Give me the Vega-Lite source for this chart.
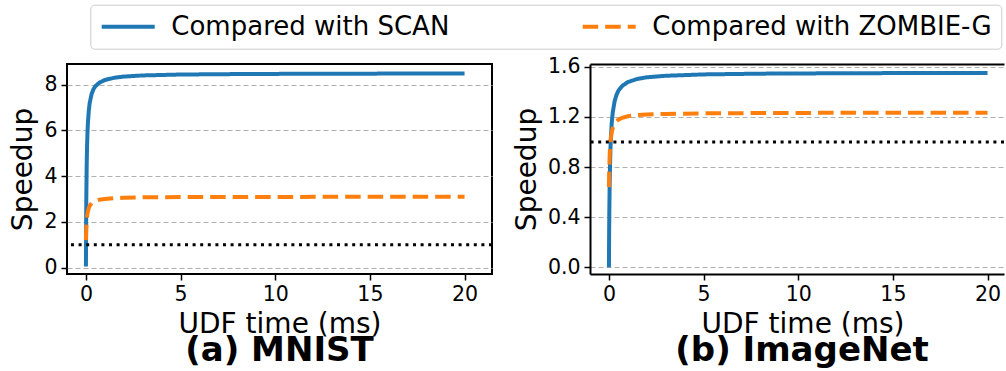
{
  "$schema": "https://vega.github.io/schema/vega-lite/v6.json",
  "padding": {"left": 8, "top": 4, "right": 0, "bottom": 0},
  "background": "white",
  "bounds": "flush",
  "spacing": 98,
  "datasets": {
    "curves": [
      {"dataset": "MNIST", "method": "Compared with SCAN", "x": 0, "y": 0.05},
      {"dataset": "MNIST", "method": "Compared with SCAN", "x": 0.01, "y": 1.85},
      {"dataset": "MNIST", "method": "Compared with SCAN", "x": 0.02, "y": 3.04},
      {"dataset": "MNIST", "method": "Compared with SCAN", "x": 0.04, "y": 4.47},
      {"dataset": "MNIST", "method": "Compared with SCAN", "x": 0.06, "y": 5.31},
      {"dataset": "MNIST", "method": "Compared with SCAN", "x": 0.08, "y": 5.86},
      {"dataset": "MNIST", "method": "Compared with SCAN", "x": 0.1, "y": 6.25},
      {"dataset": "MNIST", "method": "Compared with SCAN", "x": 0.15, "y": 6.85},
      {"dataset": "MNIST", "method": "Compared with SCAN", "x": 0.2, "y": 7.2},
      {"dataset": "MNIST", "method": "Compared with SCAN", "x": 0.3, "y": 7.59},
      {"dataset": "MNIST", "method": "Compared with SCAN", "x": 0.4, "y": 7.8},
      {"dataset": "MNIST", "method": "Compared with SCAN", "x": 0.5, "y": 7.93},
      {"dataset": "MNIST", "method": "Compared with SCAN", "x": 0.7, "y": 8.08},
      {"dataset": "MNIST", "method": "Compared with SCAN", "x": 1, "y": 8.2},
      {"dataset": "MNIST", "method": "Compared with SCAN", "x": 1.5, "y": 8.3},
      {"dataset": "MNIST", "method": "Compared with SCAN", "x": 2, "y": 8.35},
      {"dataset": "MNIST", "method": "Compared with SCAN", "x": 3, "y": 8.4},
      {"dataset": "MNIST", "method": "Compared with SCAN", "x": 5, "y": 8.44},
      {"dataset": "MNIST", "method": "Compared with SCAN", "x": 8, "y": 8.46},
      {"dataset": "MNIST", "method": "Compared with SCAN", "x": 12, "y": 8.475},
      {"dataset": "MNIST", "method": "Compared with SCAN", "x": 16, "y": 8.48},
      {"dataset": "MNIST", "method": "Compared with SCAN", "x": 20, "y": 8.485},
      {"dataset": "MNIST", "method": "Compared with ZOMBIE-G", "x": 0, "y": 1.2},
      {"dataset": "MNIST", "method": "Compared with ZOMBIE-G", "x": 0.01, "y": 1.5},
      {"dataset": "MNIST", "method": "Compared with ZOMBIE-G", "x": 0.02, "y": 1.72},
      {"dataset": "MNIST", "method": "Compared with ZOMBIE-G", "x": 0.04, "y": 2.02},
      {"dataset": "MNIST", "method": "Compared with ZOMBIE-G", "x": 0.06, "y": 2.21},
      {"dataset": "MNIST", "method": "Compared with ZOMBIE-G", "x": 0.08, "y": 2.34},
      {"dataset": "MNIST", "method": "Compared with ZOMBIE-G", "x": 0.1, "y": 2.44},
      {"dataset": "MNIST", "method": "Compared with ZOMBIE-G", "x": 0.15, "y": 2.6},
      {"dataset": "MNIST", "method": "Compared with ZOMBIE-G", "x": 0.2, "y": 2.7},
      {"dataset": "MNIST", "method": "Compared with ZOMBIE-G", "x": 0.3, "y": 2.82},
      {"dataset": "MNIST", "method": "Compared with ZOMBIE-G", "x": 0.5, "y": 2.92},
      {"dataset": "MNIST", "method": "Compared with ZOMBIE-G", "x": 0.7, "y": 2.97},
      {"dataset": "MNIST", "method": "Compared with ZOMBIE-G", "x": 1, "y": 3.0},
      {"dataset": "MNIST", "method": "Compared with ZOMBIE-G", "x": 1.5, "y": 3.035},
      {"dataset": "MNIST", "method": "Compared with ZOMBIE-G", "x": 2, "y": 3.05},
      {"dataset": "MNIST", "method": "Compared with ZOMBIE-G", "x": 3, "y": 3.07},
      {"dataset": "MNIST", "method": "Compared with ZOMBIE-G", "x": 5, "y": 3.085},
      {"dataset": "MNIST", "method": "Compared with ZOMBIE-G", "x": 10, "y": 3.09},
      {"dataset": "MNIST", "method": "Compared with ZOMBIE-G", "x": 15, "y": 3.095},
      {"dataset": "MNIST", "method": "Compared with ZOMBIE-G", "x": 20, "y": 3.097},
      {"dataset": "ImageNet", "method": "Compared with SCAN", "x": 0, "y": 0},
      {"dataset": "ImageNet", "method": "Compared with SCAN", "x": 0.01, "y": 0.251},
      {"dataset": "ImageNet", "method": "Compared with SCAN", "x": 0.02, "y": 0.432},
      {"dataset": "ImageNet", "method": "Compared with SCAN", "x": 0.04, "y": 0.676},
      {"dataset": "ImageNet", "method": "Compared with SCAN", "x": 0.06, "y": 0.833},
      {"dataset": "ImageNet", "method": "Compared with SCAN", "x": 0.08, "y": 0.942},
      {"dataset": "ImageNet", "method": "Compared with SCAN", "x": 0.1, "y": 1.023},
      {"dataset": "ImageNet", "method": "Compared with SCAN", "x": 0.15, "y": 1.155},
      {"dataset": "ImageNet", "method": "Compared with SCAN", "x": 0.2, "y": 1.234},
      {"dataset": "ImageNet", "method": "Compared with SCAN", "x": 0.3, "y": 1.325},
      {"dataset": "ImageNet", "method": "Compared with SCAN", "x": 0.4, "y": 1.376},
      {"dataset": "ImageNet", "method": "Compared with SCAN", "x": 0.5, "y": 1.409},
      {"dataset": "ImageNet", "method": "Compared with SCAN", "x": 0.7, "y": 1.447},
      {"dataset": "ImageNet", "method": "Compared with SCAN", "x": 1, "y": 1.478},
      {"dataset": "ImageNet", "method": "Compared with SCAN", "x": 1.5, "y": 1.503},
      {"dataset": "ImageNet", "method": "Compared with SCAN", "x": 2, "y": 1.516},
      {"dataset": "ImageNet", "method": "Compared with SCAN", "x": 3, "y": 1.528},
      {"dataset": "ImageNet", "method": "Compared with SCAN", "x": 5, "y": 1.539},
      {"dataset": "ImageNet", "method": "Compared with SCAN", "x": 8, "y": 1.545},
      {"dataset": "ImageNet", "method": "Compared with SCAN", "x": 12, "y": 1.548},
      {"dataset": "ImageNet", "method": "Compared with SCAN", "x": 16, "y": 1.55},
      {"dataset": "ImageNet", "method": "Compared with SCAN", "x": 20, "y": 1.551},
      {"dataset": "ImageNet", "method": "Compared with ZOMBIE-G", "x": 0, "y": 0.64},
      {"dataset": "ImageNet", "method": "Compared with ZOMBIE-G", "x": 0.01, "y": 0.735},
      {"dataset": "ImageNet", "method": "Compared with ZOMBIE-G", "x": 0.02, "y": 0.803},
      {"dataset": "ImageNet", "method": "Compared with ZOMBIE-G", "x": 0.04, "y": 0.896},
      {"dataset": "ImageNet", "method": "Compared with ZOMBIE-G", "x": 0.06, "y": 0.956},
      {"dataset": "ImageNet", "method": "Compared with ZOMBIE-G", "x": 0.08, "y": 0.998},
      {"dataset": "ImageNet", "method": "Compared with ZOMBIE-G", "x": 0.1, "y": 1.029},
      {"dataset": "ImageNet", "method": "Compared with ZOMBIE-G", "x": 0.15, "y": 1.08},
      {"dataset": "ImageNet", "method": "Compared with ZOMBIE-G", "x": 0.2, "y": 1.111},
      {"dataset": "ImageNet", "method": "Compared with ZOMBIE-G", "x": 0.3, "y": 1.146},
      {"dataset": "ImageNet", "method": "Compared with ZOMBIE-G", "x": 0.5, "y": 1.178},
      {"dataset": "ImageNet", "method": "Compared with ZOMBIE-G", "x": 0.7, "y": 1.193},
      {"dataset": "ImageNet", "method": "Compared with ZOMBIE-G", "x": 1, "y": 1.205},
      {"dataset": "ImageNet", "method": "Compared with ZOMBIE-G", "x": 1.5, "y": 1.215},
      {"dataset": "ImageNet", "method": "Compared with ZOMBIE-G", "x": 2, "y": 1.22},
      {"dataset": "ImageNet", "method": "Compared with ZOMBIE-G", "x": 3, "y": 1.224},
      {"dataset": "ImageNet", "method": "Compared with ZOMBIE-G", "x": 5, "y": 1.2285},
      {"dataset": "ImageNet", "method": "Compared with ZOMBIE-G", "x": 10, "y": 1.232},
      {"dataset": "ImageNet", "method": "Compared with ZOMBIE-G", "x": 15, "y": 1.233},
      {"dataset": "ImageNet", "method": "Compared with ZOMBIE-G", "x": 20, "y": 1.233}
    ],
    "ref": [{"y": 1}]
  },
  "config": {
    "font": "DejaVu Sans",
    "axis": {
      "labelFont": "DejaVu Sans", "labelFontSize": 20.5, "labelColor": "black",
      "titleFont": "DejaVu Sans", "titleFontSize": 28, "titleFontWeight": "normal", "titleColor": "black",
      "tickColor": "black", "tickSize": 6, "tickWidth": 1.5,
      "domain": false,
      "gridColor": "#b0b0b0", "gridDash": [5, 3], "gridWidth": 1, "gridOpacity": 1,
      "labelPadding": 4, "titlePadding": 6
    },
    "axisX": {"titlePadding": 6},
    "legend": {
      "orient": "none", "legendX": 23.3, "legendY": -59.3, "direction": "horizontal", "columns": 2,
      "symbolType": "M-2,0H8", "symbolSize": 112.4, "symbolStrokeWidth": 4,
      "labelFontSize": 26, "labelFont": "DejaVu Sans", "labelColor": "black", "labelOffset": 46, "labelLimit": 0,
      "columnPadding": 124, "padding": 9, "strokeColor": "#cccccc", "fillColor": "white", "cornerRadius": 4
    },
    "title": {"font": "DejaVu Sans", "fontSize": 34, "fontWeight": "bold", "color": "black"}
  },
  "hconcat": [
    {
      "width": 425,
      "height": 210,
      "view": {"stroke": "black", "strokeWidth": 2},
      "title": {"text": "(a) MNIST", "orient": "bottom", "anchor": "middle", "offset": -5},
      "layer": [
        {
          "data": {"name": "curves"},
          "transform": [{"filter": "datum.dataset === 'MNIST'"}],
          "mark": {"type": "line", "strokeWidth": 4, "clip": true},
          "encoding": {
            "x": {"field": "x", "type": "quantitative",
                  "scale": {"domain": [-1, 21.45], "nice": false, "zero": false},
                  "axis": {"values": [0, 5, 10, 15, 20], "title": "UDF time (ms)", "grid": false}},
            "y": {"field": "y", "type": "quantitative",
                  "scale": {"domain": [-0.28, 8.9], "nice": false, "zero": false},
                  "axis": {"values": [0, 2, 4, 6, 8], "title": "Speedup", "grid": true}},
            "color": {"field": "method", "type": "nominal",
                      "scale": {"domain": ["Compared with SCAN", "Compared with ZOMBIE-G"], "range": ["#1f77b4", "#ff7f0e"]},
                      "legend": {"title": null}},
            "strokeDash": {"field": "method", "type": "nominal",
                           "scale": {"domain": ["Compared with SCAN", "Compared with ZOMBIE-G"], "range": [[1, 0], [15.5, 7]]},
                           "legend": {"title": null}}
          }
        },
        {
          "data": {"name": "ref"},
          "mark": {"type": "rule", "color": "black", "strokeWidth": 3, "strokeDash": [3, 4.6]},
          "encoding": {"y": {"field": "y", "type": "quantitative"}}
        }
      ]
    },
    {
      "width": 414,
      "height": 210,
      "view": {"stroke": null},
      "title": {"text": "(b) ImageNet", "orient": "bottom", "anchor": "middle", "offset": -5, "dx": 5},
      "resolve": {"axis": {"x": "independent"}},
      "layer": [
        {
          "data": {"name": "curves"},
          "transform": [{"filter": "datum.dataset === 'ImageNet'"}],
          "mark": {"type": "line", "strokeWidth": 4, "clip": true},
          "encoding": {
            "x": {"field": "x", "type": "quantitative",
                  "scale": {"domain": [-1, 20.87], "nice": false, "zero": false},
                  "axis": {"values": [0, 5, 10, 15, 20], "title": "UDF time (ms)", "grid": false, "domain": true, "domainColor": "black", "domainWidth": 2, "titleX": 212.5}},
            "y": {"field": "y", "type": "quantitative",
                  "scale": {"domain": [-0.053, 1.622], "nice": false, "zero": false},
                  "axis": {"values": [0, 0.4, 0.8, 1.2, 1.6], "format": ".1f", "title": "Speedup", "grid": true, "domain": true, "domainColor": "black", "domainWidth": 2}},
            "color": {"field": "method", "type": "nominal",
                      "scale": {"domain": ["Compared with SCAN", "Compared with ZOMBIE-G"], "range": ["#1f77b4", "#ff7f0e"]},
                      "legend": {"title": null}},
            "strokeDash": {"field": "method", "type": "nominal",
                           "scale": {"domain": ["Compared with SCAN", "Compared with ZOMBIE-G"], "range": [[1, 0], [15.5, 7]]},
                           "legend": {"title": null}}
          }
        },
        {
          "data": {"name": "ref"},
          "mark": {"type": "rule", "color": "black", "strokeWidth": 3, "strokeDash": [3, 4.6]},
          "encoding": {"y": {"field": "y", "type": "quantitative"}}
        },
        {
          "data": {"name": "ref"},
          "mark": {"type": "rule", "opacity": 0},
          "encoding": {
            "x": {"field": "y", "type": "quantitative",
                  "axis": {"orient": "top", "title": null, "labels": false, "ticks": false, "grid": false, "domain": true, "domainColor": "black", "domainWidth": 2}}
          }
        }
      ]
    }
  ]
}
